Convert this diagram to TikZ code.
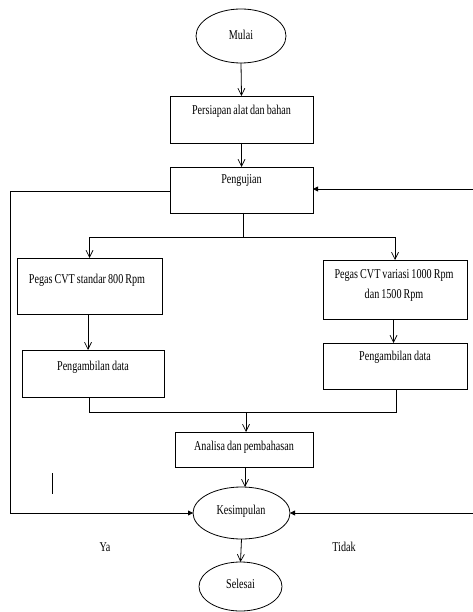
\documentclass[tikz,border=0pt]{standalone}
\usepackage{fontspec}
\setmainfont{Liberation Serif}[FakeStretch=0.75,WordSpace=0.8]
\usetikzlibrary{arrows.meta,shapes.geometric,calc}
\begin{document}
\begin{tikzpicture}[x=1pt,y=-1pt,
  every node/.style={inner sep=0pt,outer sep=0pt},
  line/.style={draw=black,line width=0.8pt},
  arr/.style={line,-{Straight Barb[length=7pt,width=7pt,line width=0.7pt]}},
  farr/.style={line,-{Triangle[length=5pt,width=5pt]}},
  box/.style={draw=black,line width=0.8pt,rectangle},
  oval/.style={draw=black,line width=0.8pt,ellipse},
  txt/.style={font=\fontsize{13.5}{20}\selectfont,align=center}]
\useasboundingbox (0,0) rectangle (473,612);
% nodes
\node[oval,minimum width=90pt,minimum height=54pt] (mulai) at (241,36) {};
\node[txt] (tmulai) at (241,35) {Mulai};
\node[box,minimum width=143pt,minimum height=47pt] (persiapan) at (241.5,119.5) {};
\node[txt] (tpersiapan) at (241.5,111) {Persiapan alat dan bahan};
\node[box,minimum width=143pt,minimum height=46pt] (pengujian) at (241.5,190) {};
\node[txt] (tpengujian) at (241.5,180) {Pengujian};
\node[box,minimum width=145pt,minimum height=56pt] (standar) at (89.5,286) {};
\node[txt] (tstandar) at (87,280) {Pegas CVT standar 800 Rpm};
\node[box,minimum width=144pt,minimum height=59pt] (variasi) at (395,289.5) {};
\node[txt] (tvariasi) at (394,285) {Pegas CVT variasi 1000 Rpm\\dan 1500 Rpm};
\node[box,minimum width=142pt,minimum height=47pt] (ambilL) at (93,373.5) {};
\node[txt] (tambilL) at (93,367) {Pengambilan data};
\node[box,minimum width=144pt,minimum height=46pt] (ambilR) at (395,366) {};
\node[txt] (tambilR) at (395,357) {Pengambilan data};
\node[box,minimum width=138pt,minimum height=35pt] (analisa) at (244,449.5) {};
\node[txt] (tanalisa) at (244,447) {Analisa dan pembahasan};
\node[oval,minimum width=97pt,minimum height=52pt] (kesimpulan) at (241.5,513) {};
\node[txt] (tkesimpulan) at (241,511) {Kesimpulan};
\node[oval,minimum width=83pt,minimum height=49pt] (selesai) at (240.5,586.5) {};
\node[txt] (tselesai) at (240.5,584) {Selesai};
\node[txt] (ya) at (105,547) {Ya};
\node[txt] (tidak) at (344,547) {Tidak};
% coordinates
\coordinate (split) at (243,237);
\coordinate (join) at (246,412);
\coordinate (rtop) at (473,189);
\coordinate (rbot) at (473,513);
\coordinate (lx) at (10,191);
\coordinate (sL) at (88,0);
\coordinate (sR) at (393.5,0);
\coordinate (jL) at (89,0);
\coordinate (jR) at (396,0);
\coordinate (ak) at (245,0);
% connectors
\draw[arr] (mulai.south) -- (persiapan.north);
\draw[arr] (persiapan.south) -- (pengujian.north);
\draw[line] (pengujian.south -| split) -- (split);
\draw[arr] (split) -| (standar.north);
\draw[arr] (split) -| (variasi.north);
\draw[arr] (sL |- standar.south) -- (sL |- ambilL.north);
\draw[arr] (sR |- variasi.south) -- (sR |- ambilR.north);
\draw[line] (jL |- ambilL.south) |- (join);
\draw[line] (jR |- ambilR.south) |- (join);
\draw[arr] (join) -- (join |- analisa.north);
\draw[arr] (ak |- analisa.south) -- (ak |- kesimpulan.north);
\draw[arr] (kesimpulan.south) -- (selesai.north);
\draw[farr] (pengujian.west |- lx) -- (lx) -- (lx |- kesimpulan.west) -- (kesimpulan.west);
\draw[farr] (rtop) -- (rtop -| pengujian.east);
\draw[farr] (rbot) -- (kesimpulan.east);
% stray mark
\draw[line] (52,473) -- (52,494);
\end{tikzpicture}
\end{document}
